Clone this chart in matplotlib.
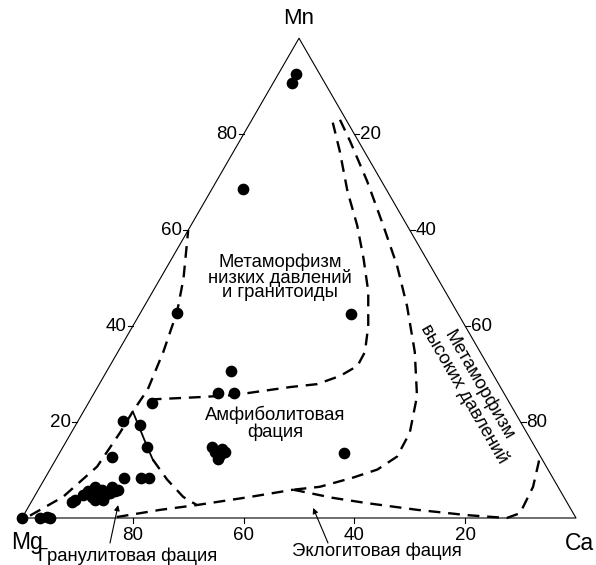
import numpy as np
import matplotlib.pyplot as plt

plt.rcParams['font.family'] = ['Liberation Sans', 'DejaVu Sans']

# составы точек, % (Ca, Mn), Mg = 100 - Ca - Mn
pts_ca = [3.2, 3.4, 5.6, 6.6, 38.1, 22.4, 22.4, 25.3, 11.5,
          26.9, 27.9, 29.1, 29.7, 29.3, 29.0, 51.3,
          8.1, 11.7, 15.1, 9.8, 14.2, 17.3, 18.7,
          7.7, 7.3, 9.1, 10.0, 11.5, 13.0, 14.0, 11.3, 10.4, 12.6, 14.4, 11.6, 8.6, 12.7, 13.3,
          0.0, 3.2, 4.4, 5.1]
pts_mn = [92.5, 90.6, 68.6, 42.8, 42.6, 30.6, 26.0, 26.0, 23.9,
          14.9, 13.8, 13.2, 13.8, 12.2, 14.3, 13.6,
          20.3, 19.3, 14.9, 12.8, 8.4, 8.4, 8.4,
          3.8, 3.4, 5.7, 6.5, 5.9, 6.5, 5.7, 3.8, 4.4, 4.8, 5.9, 4.2, 4.8, 3.8, 5.2,
          0.0, 0.0, 0.2, 0.0]

# границы полей (Ca, Mn)
gran_out_ca = [1.2, 5.2, 8.2, 8.8, 8.9, 9.3, 8.2, 6.5, 4.2, 0.0]
gran_out_mn = [0.5, 4.4, 10.7, 17.8, 22.2, 26.8, 34.6, 43.0, 49.9, 60.0]
gran_in_ca = [8.9, 15.3, 17.5, 22.2, 26.9, 30.2]
gran_in_mn = [22.2, 14.7, 12.2, 8.0, 4.4, 2.7]
ecl_left_ca = [17.0, 24.1, 30.2, 39.0, 46.0]
ecl_left_mn = [0.2, 1.7, 2.7, 4.4, 5.9]
lowp_ca = [10.7, 19.5, 25.3, 34.8, 39.3, 42.6, 44.7, 44.6, 42.5, 38.9, 34.6, 30.0, 24.7, 19.1, 14.9]
lowp_mn = [24.7, 25.2, 25.6, 27.3, 27.9, 29.6, 31.7, 34.6, 40.0, 47.2, 54.1, 61.0, 68.1, 76.5, 82.4]
highp_ca = [15.9, 19.9, 27.2, 34.7, 41.4, 47.4, 53.6, 58.6, 61.1, 61.3, 59.1, 55.5, 50.5, 46.0]
highp_mn = [83.0, 78.6, 70.2, 61.0, 52.6, 44.2, 34.6, 25.4, 17.8, 12.8, 10.1, 8.4, 6.5, 5.9]
ecl_right_ca = [46.0, 54.0, 60.7, 70.5, 80.0, 87.5, 89.4, 89.0, 87.1]
ecl_right_mn = [5.9, 4.2, 3.1, 1.7, 0.6, 0.0, 1.0, 6.5, 12.8]

ticks = [20, 40, 60, 80]

H = np.sqrt(3) / 2


def tern(ca, mn):
    ca = np.asarray(ca, float) / 100
    mn = np.asarray(mn, float) / 100
    return ca + mn / 2, mn * H


fig = plt.figure(figsize=(5.96, 5.65), dpi=100)
ax = fig.add_axes([0, 0, 1, 1])
px = 1 / 554  # один пиксель в единицах данных
ax.set_xlim(-22 * px, 574 * px)
ax.set_ylim(-47 * px, 518 * px)
ax.axis('off')

# треугольник
tx, ty = tern([0, 100, 0, 0], [0, 0, 100, 0])
ax.plot(tx, ty, color='black', lw=0.8)

fs = 13.5
d = 5 * px
for v in ticks:
    # левая сторона - Mn
    x, y = tern(0, v)
    ax.plot([x - d, x], [y, y], color='black', lw=0.8)
    ax.text(x - d - px, y, str(v), ha='right', va='center', fontsize=fs)
    # правая сторона - Ca
    x, y = tern(v, 100 - v)
    ax.plot([x, x + d], [y, y], color='black', lw=0.8)
    ax.text(x + d + px, y, str(v), ha='left', va='center', fontsize=fs)
    # основание - Mg
    x, y = tern(100 - v, 0)
    ax.plot([x, x], [y, y - d], color='black', lw=0.8)
    ax.text(x, y - 9 * px, str(v), ha='center', va='top', fontsize=fs)

# вершины
ax.text(0.5, H + 20 * px, 'Mn', ha='center', va='center', fontsize=16)
ax.text(5 * px, -25 * px, 'Mg', ha='center', va='center', fontsize=16.5)
ax.text(1 + 3 * px, -25 * px, 'Ca', ha='center', va='center', fontsize=16.5)

# границы полей
dash = dict(color='black', lw=1.7, ls=(0, (5, 3.3)))
for cas, mns in [(gran_out_ca, gran_out_mn), (gran_in_ca[2:], gran_in_mn[2:]),
                 (ecl_left_ca, ecl_left_mn), (lowp_ca, lowp_mn),
                 (highp_ca, highp_mn), (ecl_right_ca, ecl_right_mn)]:
    ax.plot(*tern(cas, mns), **dash)
ax.plot(*tern(gran_in_ca[:3], gran_in_mn[:3]), color='black', lw=1.3)

# точки
ax.plot(*tern(pts_ca, pts_mn), 'o', color='black', ms=7.4, mec='black', ls='none')

# подписи полей
ft = 13.3
ax.text(*tern(21.5, 50.1), 'Метаморфизм\nнизких давлений\nи гранитоиды',
        ha='center', va='center', fontsize=ft, linespacing=0.82)
ax.text(*tern(35.8, 19.7), 'Амфиболитовая\nфация',
        ha='center', va='center', fontsize=ft, linespacing=0.98)
ax.text(*tern(67.8, 26.8), 'Метаморфизм\nвысоких давлений', rotation=-60,
        rotation_mode='anchor', ha='center', va='center', fontsize=ft, linespacing=0.95)

arr = dict(arrowstyle='-|>', color='black', lw=0.8, mutation_scale=8, shrinkA=0, shrinkB=0)
ax.annotate('', xy=tern(16.0, 2.7), xytext=(88 * px, -25 * px), arrowprops=arr)
ax.text(106 * px, -38 * px, 'Гранулитовая фация', ha='center', va='center', fontsize=ft)
ax.annotate('', xy=tern(51.5, 2.1), xytext=(306 * px, -25 * px), arrowprops=arr)
ax.text(355 * px, -33 * px, 'Эклогитовая фация', ha='center', va='center', fontsize=ft)

fig.savefig('out.png', dpi=100)
